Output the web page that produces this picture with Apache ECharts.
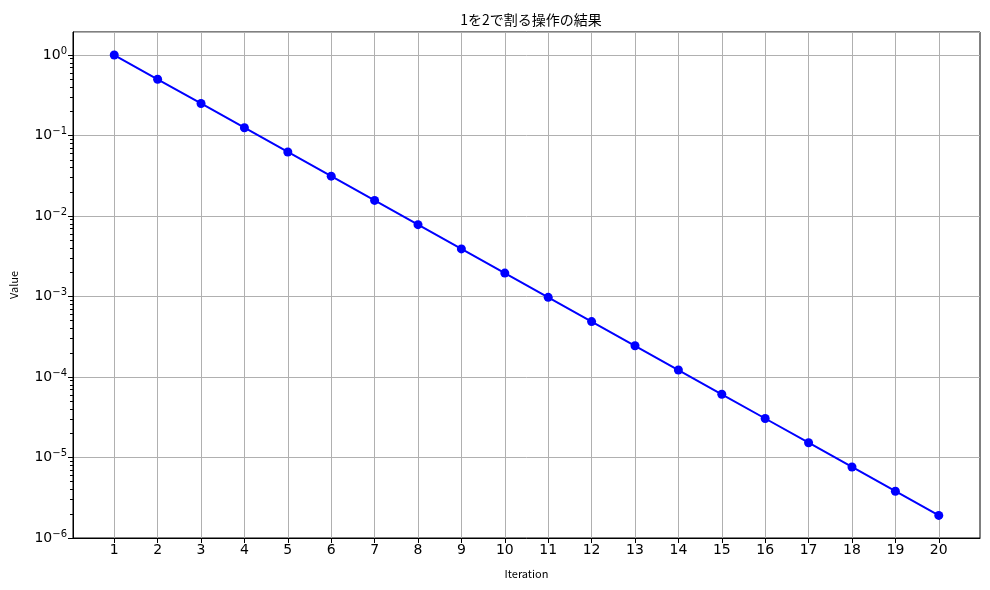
<!DOCTYPE html>
<html><head><meta charset="utf-8">
<script src="https://cdn.jsdelivr.net/npm/echarts@6/dist/echarts.min.js"></script>
<style>html,body{margin:0;padding:0;background:#fff}#c{width:990px;height:590px}</style>
</head><body><div id="c"></div>
<script>
const iterations = [1,2,3,4,5,6,7,8,9,10,11,12,13,14,15,16,17,18,19,20];
const values = [1, 0.5, 0.25, 0.125, 0.0625, 0.03125, 0.015625, 0.0078125, 0.00390625, 0.001953125,
  0.0009765625, 0.00048828125, 0.000244140625, 0.0001220703125, 0.00006103515625,
  0.000030517578125, 0.0000152587890625, 0.00000762939453125, 0.000003814697265625, 0.0000019073486328125];
const minorTickValues = [2e-6,3e-6,4e-6,5e-6,6e-6,7e-6,8e-6,9e-6,
  2e-5,3e-5,4e-5,5e-5,6e-5,7e-5,8e-5,9e-5,
  2e-4,3e-4,4e-4,5e-4,6e-4,7e-4,8e-4,9e-4,
  2e-3,3e-3,4e-3,5e-3,6e-3,7e-3,8e-3,9e-3,
  2e-2,3e-2,4e-2,5e-2,6e-2,7e-2,8e-2,9e-2,
  0.2,0.3,0.4,0.5,0.6,0.7,0.8,0.9];
const titleText = '1を2で割る操作の結果';
const xName = 'Iteration';
const yName = 'Value';

const chart = echarts.init(document.getElementById('c'));
const cjk = '"Noto Sans CJK JP", sans-serif';
const yMin = 1e-6, yMax = 1.932;
chart.setOption({
  animation: false,
  title: { text: titleText, left: 526, top: 8, textAlign: 'center',
    textStyle: { fontFamily: cjk, fontSize: 14, fontWeight: 'normal', color: '#000' } },
  grid: { left: 72, right: 10, top: 32, bottom: 52, show: true, borderColor: '#000', borderWidth: 1 },
  xAxis: {
    type: 'value', min: 0.05, max: 20.95,
    name: xName, nameLocation: 'middle', nameGap: 30,
    nameTextStyle: { fontFamily: cjk, fontSize: 11, color: '#000' },
    axisLine: { show: true, onZero: false, lineStyle: { color: '#000', width: 1 } },
    axisTick: { show: true, length: 5, customValues: iterations, lineStyle: { color: '#000' } },
    axisLabel: { customValues: iterations, color: '#000', fontFamily: 'DejaVu Sans', fontSize: 14, margin: 5 },
    splitLine: { show: true, lineStyle: { color: '#b0b0b0', width: 1 } }
  },
  yAxis: [{
    type: 'log', logBase: 10, min: yMin, max: yMax,
    name: yName, nameLocation: 'middle', nameGap: 54,
    nameTextStyle: { fontFamily: cjk, fontSize: 11, color: '#000' },
    axisLine: { show: true, lineStyle: { color: '#000', width: 1 } },
    axisTick: { show: true, length: 5, lineStyle: { color: '#000' } },
    axisLabel: {
      showMaxLabel: false, margin: 6, color: '#000',
      formatter: function (v) {
        const e = Math.round(Math.log10(v));
        return '{b|10}{e|' + (e < 0 ? '\u2212' + (-e) : e) + '}';
      },
      rich: {
        b: { fontFamily: 'DejaVu Sans', fontSize: 14, color: '#000' },
        e: { fontFamily: 'DejaVu Sans', fontSize: 10, color: '#000', padding: [0, 0, 8, 0] }
      }
    },
    splitLine: { show: true, lineStyle: { color: '#b0b0b0', width: 1 } }
  }, {
    type: 'log', logBase: 10, min: yMin, max: yMax, position: 'left',
    axisLine: { show: false },
    axisTick: { show: true, length: 3, customValues: minorTickValues, lineStyle: { color: '#000' } },
    axisLabel: { show: false },
    splitLine: { show: false }
  }],
  series: [{
    type: 'line',
    data: iterations.map((x, i) => [x, values[i]]),
    yAxisIndex: 0,
    symbol: 'circle', symbolSize: 9,
    lineStyle: { color: '#0000ff', width: 2 },
    itemStyle: { color: '#0000ff' }
  }]
});
</script></body></html>
